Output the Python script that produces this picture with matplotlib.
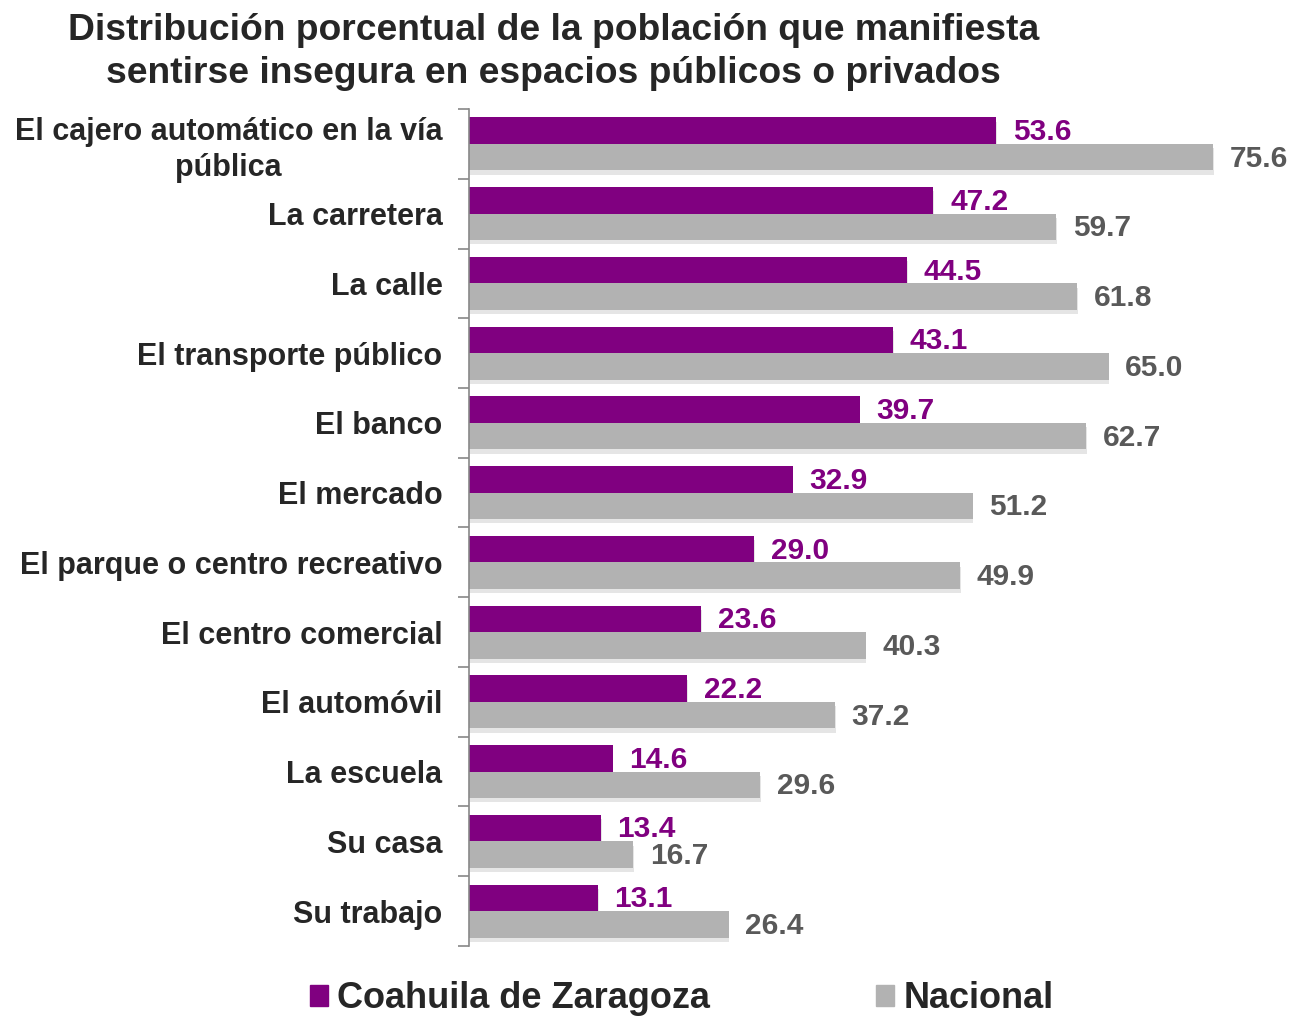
import numpy as np
import matplotlib
matplotlib.use('Agg')
import matplotlib.pyplot as plt
import matplotlib.patheffects as pe
from matplotlib.patches import Patch

plt.rcParams['font.family'] = ['Liberation Sans', 'DejaVu Sans']
plt.rcParams['font.weight'] = 'bold'

lugares = ['El cajero automático en la vía\npública', 'La carretera', 'La calle',
           'El transporte público', 'El banco', 'El mercado',
           'El parque o centro recreativo', 'El centro comercial', 'El automóvil',
           'La escuela', 'Su casa', 'Su trabajo']
coahuila = [53.6, 47.2, 44.5, 43.1, 39.7, 32.9, 29.0, 23.6, 22.2, 14.6, 13.4, 13.1]
nacional = [75.6, 59.7, 61.8, 65.0, 62.7, 51.2, 49.9, 40.3, 37.2, 29.6, 16.7, 26.4]

morado = '#800080'
gris = '#B2B2B2'
gris_txt = '#595959'

fig = plt.figure(figsize=(12.94, 10.21), dpi=100)
ax = fig.add_axes([0.3624, 0.0735, 0.6084, 0.8197])

y = np.arange(len(lugares))
h = 0.38
sombra = [pe.SimplePatchShadow(offset=(0.5, -3), shadow_rgbFace='#aaaaaa', alpha=0.3), pe.Normal()]
ax.barh(y - h / 2, coahuila, height=h, color=morado, path_effects=sombra)
ax.barh(y + h / 2, nacional, height=h, color=gris, path_effects=sombra)

for i in range(len(lugares)):
    ax.text(coahuila[i] + 1.7, y[i] - h / 2 + 0.02, f'{coahuila[i]:.1f}', color=morado,
            fontsize=21.5, fontweight='bold', va='center', ha='left')
    ax.text(nacional[i] + 1.7, y[i] + h / 2 + 0.02, f'{nacional[i]:.1f}', color=gris_txt,
            fontsize=21.5, fontweight='bold', va='center', ha='left')

ax.set_xlim(0, 80)
ax.set_ylim(len(lugares) - 0.5, -0.5)
ax.set_yticks(y)
ax.set_yticklabels(lugares, fontsize=22, fontweight='bold', color='#262626',
                   multialignment='center', linespacing=1.25)
ax.tick_params(axis='y', which='major', length=0, pad=19)
ax.set_yticks(np.arange(-0.5, len(lugares), 1), minor=True)
ax.tick_params(axis='y', which='minor', length=8, width=1.2, color='#888888')
ax.set_xticks([])
for s in ['top', 'right', 'bottom']:
    ax.spines[s].set_visible(False)
ax.spines['left'].set_color('#888888')
ax.spines['left'].set_linewidth(1.2)

fig.text(0.428, 0.987, 'Distribución porcentual de la población que manifiesta\n'
         'sentirse insegura en espacios públicos o privados',
         ha='center', va='top', fontsize=26.8, fontweight='bold', color='#262626',
         linespacing=1.3)

handles = [Patch(color=morado), Patch(color=gris)]
fig.legend(handles, ['Coahuila de Zaragoza', 'Nacional'], loc='center',
           bbox_to_anchor=(0.527, 0.022), ncol=2, frameon=False,
           prop={'size': 26, 'weight': 'bold'}, labelcolor='#262626',
           handlelength=0.5, handleheight=0.5, handletextpad=0.25, columnspacing=4.6)

fig.savefig('out.png', dpi=100)
